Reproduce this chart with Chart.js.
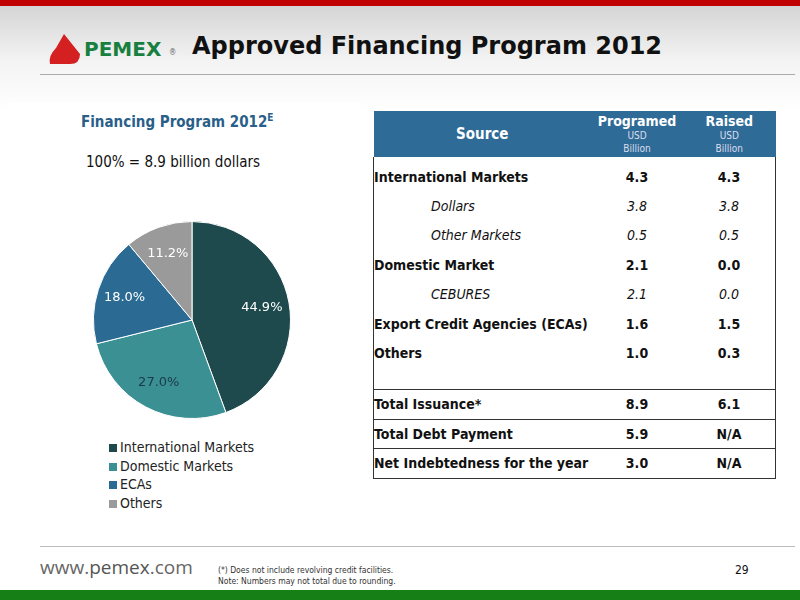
<!DOCTYPE html>
<html><head><meta charset="utf-8">
<script src="https://cdn.jsdelivr.net/npm/chart.js@4/dist/chart.umd.min.js"></script>
<style>
body{margin:0;width:800px;height:600px;position:relative;overflow:hidden;font-family:"DejaVu Sans Condensed","DejaVu Sans",sans-serif;background:linear-gradient(#d4d4d4 5px,#f3f3f3 60px,#fff 110px);}
.abs{position:absolute}
#top{left:0;top:0;width:800px;height:6px;background:#c00000}
#title{left:192px;top:32px;font-size:24px;font-weight:bold;color:#111;font-family:"DejaVu Sans"}
#logo{left:44px;top:28px}
#rule{left:40px;top:74px;width:755px;height:1px;background:#aaa}
#panel{left:10px;top:103px;width:350px;height:430px;background:#fff}
#sub{left:81px;top:112px;font-size:15px;font-weight:bold;color:#2a5f8a}
#sub2{left:86px;top:153px;font-size:15px;color:#111}
#legend{left:109px;top:438px;font-size:14px;line-height:18.5px;color:#222}
#legend span{display:inline-block;width:8px;height:8px;margin-right:3px}
table{position:absolute;left:373px;top:111px;width:403px;border-collapse:collapse;font-size:14px;color:#111}
th{background:#2e6b96;color:#fff;height:46px;font-weight:bold;padding:0}
th small{display:block;font-weight:normal;font-size:10px;line-height:13px;color:#dde}
td{height:29.5px;padding:0;font-weight:bold;white-space:nowrap}
tr.f td{height:28px;padding-bottom:6px;vertical-align:bottom}
tr.b td{height:21px}
tr.t td{height:28.5px}
td.v{text-align:center;width:92px}
tbody tr td:first-child{border-left:1.5px solid #333}
tbody tr td:last-child{border-right:1.5px solid #333}
tr.s td{font-style:italic;font-weight:normal}
tr.s td:first-child{padding-left:57px}
tr.t td{border-top:1.5px solid #333;border-bottom:1.5px solid #333}
#frule{left:40px;top:546px;width:755px;height:1px;background:#bbb}
#www{left:40px;top:554px;font-size:19px;color:#666;font-family:"Open Sans",sans-serif}
#www b{font-weight:normal;color:#555}
#note{left:218px;top:565px;font-size:8.5px;color:#333;line-height:11px}
#pg{left:735px;top:563px;font-size:12px;color:#111}
#bot{left:0;top:590px;width:800px;height:10px;background:#168016}
</style></head><body>
<div class="abs" id="top"></div>
<div class="abs" id="logo"><svg width="150" height="40"><path d="M20 6 L36 26 Q36 36 26 36 L6 36 Q4 28 12 20Z" fill="#d42020"/><text x="40" y="28" font-family="DejaVu Sans" font-weight="bold" font-size="20" fill="#178040">PEMEX</text><text x="125" y="27" font-size="8" fill="#666">®</text></svg></div>
<div class="abs" id="title">Approved Financing Program 2012</div>
<div class="abs" id="rule"></div>
<div class="abs" id="panel"></div>
<div class="abs" id="sub">Financing Program 2012<sup style="font-size:10px">E</sup></div>
<div class="abs" id="sub2">100% = 8.9 billion dollars</div>
<div class="abs" style="left:80px;top:208px;width:224px;height:224px"><canvas id="c" width="224" height="224" style="width:224px;height:224px"></canvas></div>
<div class="abs" id="legend"></div>
<table>
<thead><tr><th style="font-size:15px">Source</th><th class="v">Programed<small>USD<br>Billion</small></th><th class="v">Raised<small>USD<br>Billion</small></th></tr></thead>
<tbody id="tb"></tbody></table>
<div class="abs" id="frule"></div>
<div class="abs" id="www">www.<b>pemex</b>.com</div>
<div class="abs" id="note">(*) Does not include revolving credit facilities.<br>Note: Numbers may not total due to rounding.</div>
<div class="abs" id="pg">29</div>
<div class="abs" id="bot"></div>
<script>
const categories=["International Markets","Domestic Markets","ECAs","Others"];
const shares=[44.9,27.0,18.0,11.2];
const colors=["#1f4a4d","#3b9094","#2b6b93","#9a9a9a"];
const labelColors=["#fff","#1a3a4a","#fff","#fff"];
const rowNames=["International Markets","Dollars","Other Markets","Domestic Market","CEBURES","Export Credit Agencies (ECAs)","Others","","Total Issuance*","Total Debt Payment","Net Indebtedness for the year"];
const programed=["4.3","3.8","0.5","2.1","2.1","1.6","1.0","","8.9","5.9","3.0"];
const raised=["4.3","3.8","0.5","0.0","0.0","1.5","0.3","","6.1","N/A","N/A"];
const sub=[1,2,4];
let h="";
rowNames.forEach((n,i)=>{let cls=sub.includes(i)?"s":(i>=8?"t":(i==7?"b":(i==0?"f":"")));
h+=`<tr class="${cls}"><td>${n}</td><td class="v">${programed[i]}</td><td class="v">${raised[i]}</td></tr>`;});
document.getElementById("tb").innerHTML=h;
document.getElementById("legend").innerHTML=categories.map((c,i)=>`<div><span style="background:${colors[i]}"></span>${c}</div>`).join("");
const lbl={id:"lbl",afterDatasetsDraw(ch){const ctx=ch.ctx;ctx.save();ctx.font="13px 'DejaVu Sans'";ctx.textAlign="center";ctx.textBaseline="middle";
ch.getDatasetMeta(0).data.forEach((a,i)=>{const p=a.getProps(["x","y","startAngle","endAngle","outerRadius"],true);const m=(p.startAngle+p.endAngle)/2,r=p.outerRadius*0.72;
ctx.fillStyle=labelColors[i];ctx.fillText(shares[i].toFixed(1)+"%",p.x+Math.cos(m)*r,p.y+Math.sin(m)*r);});ctx.restore();}};
new Chart(document.getElementById("c"),{type:"pie",data:{labels:categories,datasets:[{data:shares,backgroundColor:colors,borderColor:"#fff",borderWidth:1}]},
options:{responsive:false,animation:false,layout:{padding:13},plugins:{legend:{display:false},tooltip:{enabled:false}}},plugins:[lbl]});
</script></body></html>
